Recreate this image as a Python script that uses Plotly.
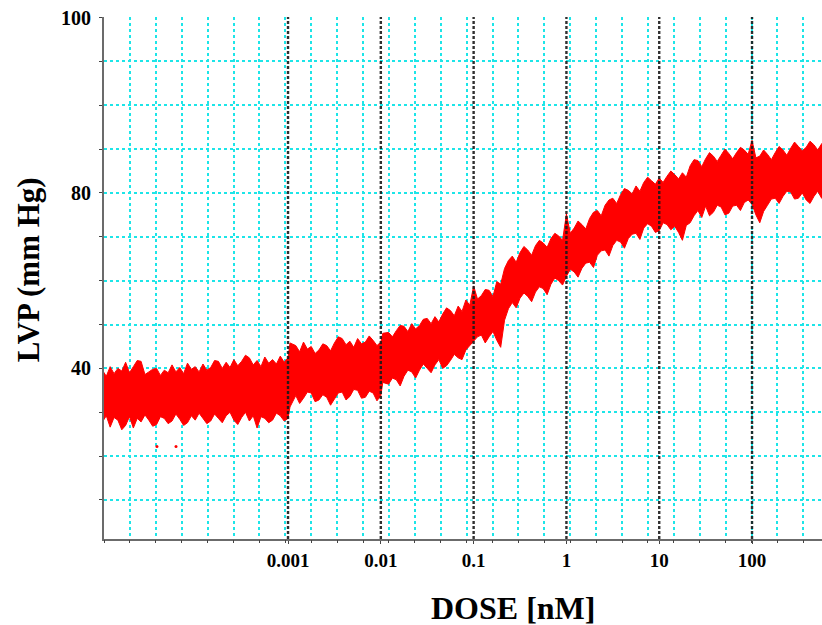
import plotly.graph_objects as go

# Left-ventricular pressure envelope recorded over a cumulative dose series.
# Doses in nM; upper/lower edges of the pressure trace in mm Hg.
dose_nM = [
    1.000e-5, 1.101e-5, 1.212e-5, 1.334e-5, 1.468e-5, 1.616e-5, 1.778e-5, 1.957e-5,
    2.154e-5, 2.371e-5, 2.610e-5, 2.873e-5, 3.162e-5, 3.481e-5, 3.831e-5, 4.217e-5,
    4.642e-5, 5.109e-5, 5.623e-5, 6.190e-5, 6.813e-5, 7.499e-5, 8.254e-5, 9.085e-5,
    1.000e-4, 1.101e-4, 1.212e-4, 1.334e-4, 1.468e-4, 1.616e-4, 1.778e-4, 1.957e-4,
    2.154e-4, 2.371e-4, 2.610e-4, 2.873e-4, 3.162e-4, 3.481e-4, 3.831e-4, 4.217e-4,
    4.642e-4, 5.109e-4, 5.623e-4, 6.190e-4, 6.813e-4, 7.499e-4, 8.254e-4, 9.085e-4,
    1.000e-3, 1.050e-3, 1.212e-3, 1.334e-3, 1.468e-3, 1.616e-3, 1.778e-3, 1.957e-3,
    2.154e-3, 2.371e-3, 2.610e-3, 2.873e-3, 3.162e-3, 3.481e-3, 3.831e-3, 4.217e-3,
    4.642e-3, 5.109e-3, 5.623e-3, 6.190e-3, 6.813e-3, 7.499e-3, 8.254e-3, 9.085e-3,
    1.000e-2, 1.050e-2, 1.212e-2, 1.334e-2, 1.468e-2, 1.616e-2, 1.778e-2, 1.957e-2,
    2.154e-2, 2.371e-2, 2.610e-2, 2.873e-2, 3.162e-2, 3.481e-2, 3.831e-2, 4.217e-2,
    4.642e-2, 5.109e-2, 5.623e-2, 6.190e-2, 6.813e-2, 7.499e-2, 8.254e-2, 9.085e-2,
    0.1000, 0.1101, 0.1212, 0.1334, 0.1468, 0.1616, 0.1778, 0.1957,
    0.2154, 0.2371, 0.2610, 0.2873, 0.3162, 0.3481, 0.3831, 0.4217,
    0.4642, 0.5109, 0.5623, 0.6190, 0.6813, 0.7499, 0.8254, 0.9085,
    1.000, 1.101, 1.212, 1.334, 1.468, 1.616, 1.778, 1.957,
    2.154, 2.371, 2.610, 2.873, 3.162, 3.481, 3.831, 4.217,
    4.642, 5.109, 5.623, 6.190, 6.813, 7.499, 8.254, 9.085,
    10.00, 11.01, 12.12, 13.34, 14.68, 16.16, 17.78, 19.57,
    21.54, 23.71, 26.10, 28.73, 31.62, 34.81, 38.31, 42.17,
    46.42, 51.09, 56.23, 61.90, 68.13, 74.99, 82.54, 90.85,
    100.0, 110.1, 121.2, 133.4, 146.8, 161.6, 177.8, 195.7,
    215.4, 237.1, 261.0, 287.3, 316.2, 348.1, 383.1, 421.7,
    464.2, 510.9, 562.3, 619.0, 681.3,
]
lvp_upper = [
    59.8, 59.1, 60.2, 59.4, 60.0, 59.7, 60.7, 59.5, 60.2, 60.9, 60.8, 59.3,
    59.6, 59.9, 60.0, 59.2, 59.8, 59.5, 60.4, 59.6, 60.1, 59.4, 60.6, 59.9,
    60.2, 59.6, 60.5, 59.8, 60.1, 60.9, 60.8, 60.0, 60.7, 60.1, 61.0, 60.3,
    60.8, 61.5, 61.2, 60.4, 60.9, 60.2, 61.3, 60.6, 61.0, 60.5, 61.4, 60.7,
    61.2, 62.9, 62.6, 61.9, 63.0, 62.2, 62.5, 61.7, 62.1, 62.8, 62.6, 62.0,
    62.9, 63.6, 63.4, 62.7, 63.1, 62.4, 63.4, 62.8, 63.0, 63.7, 63.2, 62.6,
    63.0, 64.0, 64.1, 63.6, 64.3, 64.9, 64.8, 64.2, 65.1, 64.5, 64.9, 65.6,
    65.7, 65.1, 65.9, 65.3, 66.2, 66.9, 66.6, 66.0, 67.1, 66.5, 67.8, 67.2,
    69.4, 67.9, 68.3, 69.0, 68.9, 68.2, 69.9, 69.6, 71.4, 72.3, 72.8, 72.1,
    73.2, 73.9, 73.5, 72.9, 74.0, 74.6, 74.3, 73.8, 74.8, 75.4, 75.1, 74.6,
    77.6, 75.4, 76.0, 76.8, 76.4, 75.9, 77.1, 77.8, 78.0, 77.4, 78.6, 79.2,
    79.4, 78.8, 79.8, 80.5, 80.3, 79.9, 80.8, 80.2, 81.2, 81.8, 81.4, 81.0,
    81.7, 81.2, 81.9, 82.5, 82.1, 81.6, 82.3, 81.8, 83.1, 83.8, 83.7, 83.0,
    83.9, 84.6, 84.2, 83.6, 84.3, 85.0, 84.5, 83.9, 84.6, 85.2, 84.9, 84.4,
    86.0, 84.0, 84.2, 84.9, 84.4, 83.8, 84.6, 85.3, 84.9, 84.3, 85.1, 85.8,
    85.3, 84.8, 85.2, 85.9, 85.5, 84.9, 85.6, 86.1, 85.6,
]
lvp_lower = [
    53.9, 54.6, 53.3, 54.4, 54.1, 53.0, 53.5, 54.5, 53.2, 54.3, 53.9, 54.7,
    54.1, 53.4, 53.6, 54.5, 54.3, 53.7, 54.0, 54.8, 54.2, 53.5, 53.8, 54.6,
    54.1, 54.9, 54.3, 53.7, 54.0, 54.8, 54.3, 53.8, 54.6, 55.0, 54.1, 53.6,
    54.4, 55.0, 54.0, 54.6, 53.2, 54.5, 54.3, 53.8, 54.1, 54.9, 54.6, 54.0,
    54.3, 55.6, 56.9, 56.0, 56.6, 57.3, 57.2, 56.2, 56.4, 57.0, 56.7, 55.8,
    56.5, 57.2, 57.3, 56.4, 56.8, 57.6, 57.5, 56.6, 56.7, 57.4, 57.2, 56.3,
    56.9, 58.4, 58.2, 58.9, 58.7, 58.0, 59.1, 59.8, 59.6, 58.9, 59.8, 60.5,
    60.0, 59.5, 60.4, 61.0, 60.0, 60.3, 60.9, 61.6, 61.2, 61.0, 62.1, 62.6,
    63.0, 63.6, 63.8, 62.9, 63.6, 64.2, 63.2, 62.4, 65.5, 66.8, 67.5, 66.9,
    68.0, 68.6, 68.2, 67.6, 68.7, 69.3, 69.1, 68.4, 69.6, 70.3, 70.0, 69.5,
    70.5, 71.3, 71.0, 70.4, 71.4, 72.0, 72.1, 71.5, 72.9, 73.4, 73.5, 72.8,
    74.0, 74.6, 74.4, 73.7, 74.8, 75.3, 75.4, 74.7, 76.0, 76.5, 76.2, 75.5,
    75.7, 76.6, 76.4, 75.8, 76.2, 75.5, 74.6, 76.3, 76.6, 77.4, 78.0, 77.2,
    78.5, 77.4, 77.8, 78.6, 78.4, 77.5, 77.7, 78.5, 78.6, 78.0, 78.9, 79.2,
    78.7, 77.5, 76.6, 77.9, 78.6, 79.3, 79.4, 78.8, 79.6, 80.2, 80.1, 79.3,
    79.4, 80.0, 79.2, 78.8, 79.6, 80.2, 79.4, 79.0, 79.4,
]
# a couple of isolated samples below the trace
stray_dose = [3.87e-5, 6.21e-5]
stray_lvp = [51.1, 51.1]

x_ticks = [0.001, 0.01, 0.1, 1, 10, 100]
x_tick_labels = ["0.001", "0.01", "0.1", "1", "10", "100"]
y_ticks = [100, 80, 60]
y_tick_labels = ["100", "80", "40"]

FONT = "Liberation Serif, Times New Roman, serif"
CYAN = "#1de5e8"
RED = "#ff0000"
TICK = "#444444"

fig = go.Figure()
fig.add_trace(go.Scatter(
    x=dose_nM, y=lvp_lower, mode="lines",
    line=dict(color=RED, width=1), hoverinfo="skip", showlegend=False,
))
fig.add_trace(go.Scatter(
    x=dose_nM, y=lvp_upper, mode="lines",
    line=dict(color=RED, width=1), fill="tonexty", fillcolor=RED,
    showlegend=False,
))
fig.add_trace(go.Scatter(
    x=stray_dose, y=stray_lvp, mode="markers",
    marker=dict(color=RED, size=3), showlegend=False,
))
# empty trace that attaches the chart-paper grid axis
fig.add_trace(go.Scatter(
    x=[], y=[], xaxis="x2", yaxis="y", mode="lines",
    hoverinfo="skip", showlegend=False,
))

# dark dashed markers at each dose decade, drawn over the trace
for d in x_ticks:
    fig.add_shape(
        type="line", xref="x", yref="y domain", x0=d, x1=d, y0=0, y1=1,
        line=dict(color="rgba(25,25,25,0.9)", width=2.4, dash="3px,2px"),
        layer="above",
    )

fig.update_layout(
    width=822, height=625,
    margin=dict(l=104, r=0, t=17, b=86),
    paper_bgcolor="white", plot_bgcolor="white",
    showlegend=False,
    xaxis=dict(
        type="log", range=[-4.983, 2.754],
        tickmode="array", tickvals=x_ticks, ticktext=x_tick_labels,
        ticks="outside", ticklen=3, tickcolor=TICK,
        showgrid=False, zeroline=False,
        showline=True, linecolor="#6b6b6b", linewidth=2,
        tickfont=dict(family=FONT, size=19, color="black", weight="bold"),
        ticklabelstandoff=0,
    ),
    # recorder chart-paper grid, evenly spaced across the plotting area
    xaxis2=dict(
        overlaying="x", anchor="y", side="bottom",
        range=[0, 27.72], tickmode="linear", tick0=0, dtick=1,
        showgrid=True, gridcolor=CYAN, gridwidth=2, griddash="dot",
        ticks="outside", ticklen=3, tickcolor=TICK,
        showticklabels=False, showline=False, zeroline=False,
    ),
    yaxis=dict(
        range=[40.55, 100.06],
        tickmode="array", tickvals=y_ticks, ticktext=y_tick_labels,
        ticks="outside", ticklen=3, tickcolor=TICK,
        showgrid=True, gridcolor=CYAN, gridwidth=2, griddash="dot",
        minor=dict(
            tickmode="linear", tick0=100, dtick=5,
            showgrid=True, gridcolor=CYAN, gridwidth=2, griddash="dot",
            ticks="outside", ticklen=3, tickcolor=TICK,
        ),
        zeroline=False,
        showline=True, linecolor="#6b6b6b", linewidth=2,
        tickfont=dict(family=FONT, size=20, color="black", weight="bold"),
        ticklabelstandoff=4,
    ),
    annotations=[
        dict(
            text="<b>DOSE [nM]</b>", xref="paper", yref="paper",
            x=0.5696, y=-0.132, xanchor="center", yanchor="middle",
            showarrow=False, font=dict(family=FONT, size=32, color="black"),
        ),
        dict(
            text="<b>LVP (mm Hg)</b>", xref="paper", yref="paper",
            x=-0.1058, y=0.515, xanchor="center", yanchor="middle",
            textangle=-90, showarrow=False,
            font=dict(family=FONT, size=31, color="black"),
        ),
    ],
)

fig.write_html("out.html")
